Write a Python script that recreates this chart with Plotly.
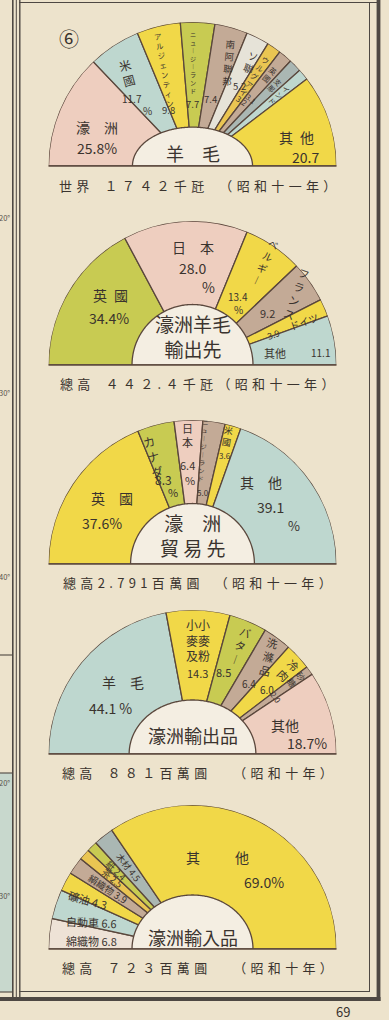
import math
import plotly.graph_objects as go

W, H = 389, 1020

# ---------------- data ----------------
wool_world_names = ["濠洲", "米國", "アルジェンティン", "ニュージーランド", "南阿聯邦", "ソ聯",
                    "ウルグアイ", "英國", "支那", "インド", "其他"]
wool_world_share = [25.8, 11.7, 9.8, 7.7, 7.4, 5.2, 3.2, 3.1, 2.9, 2.5, 20.7]

wool_export_names = ["英國", "日本", "ベルギー", "フランス", "ドイツ", "其他"]
wool_export_share = [34.4, 28.0, 13.4, 9.2, 3.9, 11.1]

trade_names = ["英國", "カナダ", "日本", "ニュージーランド", "米國", "其他"]
trade_share = [37.6, 8.3, 6.4, 5.0, 3.6, 39.1]

export_names = ["羊毛", "小麥及小麥粉", "バター", "洗滌品", "冷肉", "砂糖", "其他"]
export_share = [44.1, 14.3, 8.5, 6.4, 6.0, 2.0, 18.7]

import_names = ["綿織物", "自動車", "礦油", "絹織物", "茶", "紙", "木材", "其他"]
import_share = [6.8, 6.6, 4.3, 3.9, 2.5, 2.4, 4.5, 69.0]

chart_titles = ["羊　毛", "濠洲羊毛<br>輸出先", "濠　洲<br>貿 易 先", "濠洲輸出品", "濠洲輸入品"]
chart_captions = ["世界 1742千瓩 (昭和十一年)",
                  "總高 442.4千瓩(昭和十一年)",
                  "總高2.791百萬圓 (昭和十一年)",
                  "總高 881百萬圓  (昭和十年)",
                  "總高 723百萬圓  (昭和十年)"]

# ---------------- style ----------------
PAPER = "#ede3cc"
INNER = "#f4eee2"
EDGE = "#5a473c"
INK = "#3a332e"
FONT = "Noto Sans CJK JP"

PINK = "#eecebf"
BLUE = "#bed7cf"
YELLOW = "#f1d848"
ORANGE = "#eac552"
GREEN = "#c8cb52"
TAN = "#c3aa96"
LIGHT = "#e6e3d8"
GREY = "#aab7b3"
WHITE = "#eee2d6"

CX, R = 192.5, 144.0

# label pieces: (format, r, theta, size, textangle)
charts = [
    dict(names=wool_world_names, values=wool_world_share, base=166, hole=(0.417, 0.27),
         title_r=0.09, title_size=18, caption_full=True,
         colors=[PINK, BLUE, YELLOW, GREEN, TAN, LIGHT, ORANGE, TAN, GREY, BLUE, YELLOW],
         labels=[
             [("{sp2}", 0.716, 157.8, 14, 0), ("{v}%", 0.675, 169.3, 14, 0)],
             [("{col}", 0.79, 125.0, 12, -15), ("{v}", 0.632, 131.7, 10, 0), ("%", 0.501, 129.1, 10, 0)],
             [("{col}", 0.70, 106.5, 7.5, -10), ("{v}", 0.424, 113.6, 9.5, 0)],
             [("{col}", 0.72, 89.7, 6.2, 0), ("{v}", 0.43, 90.4, 9.5, 0)],
             [("{col}", 0.765, 70.7, 9.5, 5), ("{v}", 0.48, 74.8, 9.5, 0)],
             [("{col}", 0.829, 60.6, 10, 20), ("{v}", 0.646, 59.3, 9.5, 0)],
             [("{col}", 0.76, 55.4, 7.5, 34), ("{v}", 0.566, 53.0, 8, 35)],
             [("{col}", 0.83, 49.8, 7.5, 40), ("{v}", 0.62, 49.0, 7.5, 40)],
             [("{col}", 0.80, 44.4, 7, 46)],
             [("{col}", 0.78, 39.5, 7, 50)],
             [("{sp}", 0.753, 15.5, 14, 0), ("{v}", 0.784, 4.6, 14, 0)],
         ]),
    dict(names=wool_export_names, values=wool_export_share, base=365, hole=(0.42, 0.42),
         title_r=0.2, title_size=19, caption_full=True,
         colors=[GREEN, PINK, YELLOW, TAN, YELLOW, BLUE],
         labels=[
             [("{sp}", 0.749, 139.5, 14, 0), ("{v}%", 0.668, 150.8, 14, 0)],
             [("{sp2}", 0.819, 90, 14, 0), ("{v}", 0.674, 90, 14, 0), ("%", 0.553, 78.4, 14, 0)],
             [("{col}", 0.875, 54.6, 10, 25), ("{v}", 0.57, 56.0, 10, 0), ("%", 0.50, 50.4, 10, 0)],
             [("{col}", 0.875, 34.3, 11, 20), ("{v}", 0.634, 34.7, 11, 0)],
             [("{name}", 0.827, 21.2, 10, -20), ("{v}", 0.602, 20.9, 9, -20)],
             [("{name}", 0.582, 8.2, 11, 0), ("{v}", 0.893, 5.4, 10, 0)],
         ]),
    dict(names=trade_names, values=trade_share, base=564, hole=(0.43, 0.42),
         title_r=0.2, title_size=19, caption_full=False,
         colors=[YELLOW, GREEN, PINK, TAN, YELLOW, BLUE],
         labels=[
             [("{sp2}", 0.72, 140.5, 14, 0), ("{v}%", 0.687, 155.5, 14, 0)],
             [("{col}", 0.797, 109.9, 12, -15), ("{v}", 0.617, 109, 12, 0), ("%", 0.519, 105.5, 11, 0)],
             [("{col}", 0.895, 92.2, 11, 0), ("{v}", 0.69, 92.9, 11, 0), ("%", 0.585, 92, 11, 0)],
             [("{col}", 0.79, 84.5, 6.2, 5), ("{v}", 0.50, 81.9, 8, 0)],
             [("{col}", 0.915, 74.6, 9, 10), ("{v}", 0.79, 73.2, 8, 0)],
             [("{sp2}", 0.74, 50.3, 14, 0), ("{v}", 0.671, 36.2, 14, 0), ("%", 0.752, 21.1, 13, 0)],
         ]),
    dict(names=export_names, values=export_share, base=754, hole=(0.44, 0.375),
         title_r=0.13, title_size=18, caption_full=True,
         colors=[BLUE, YELLOW, GREEN, TAN, YELLOW, TAN, PINK],
         labels=[
             [("{sp2}", 0.697, 134.2, 14, 0), ("{v} %", 0.653, 150.7, 14, 0)],
             [("{pair}", 0.793, 87, 12, 0), ("{v}", 0.564, 86.5, 11, 0)],
             [("{col}", 0.827, 66.2, 11, 20), ("{v}", 0.609, 69.3, 11, 0)],
             [("{col}", 0.856, 51.9, 11, 15), ("{v}", 0.628, 51.7, 10, 0)],
             [("{col}", 0.886, 41.2, 11, 45), ("{v}", 0.68, 40.9, 10, 0)],
             [("{col}", 0.89, 35.5, 8.5, 55), ("{v}", 0.70, 34.0, 8, 55)],
             [("{name}", 0.676, 17.3, 14, 0), ("{v}%", 0.802, 5.5, 14, 0)],
         ]),
    dict(names=import_names, values=import_share, base=949, hole=(0.42, 0.375),
         title_r=0.083, title_size=18, caption_full=True,
         colors=[WHITE, BLUE, YELLOW, TAN, ORANGE, GREEN, GREY, YELLOW],
         labels=[
             [("{name} {v}", 0.707, 175.5, 11, 0)],
             [("{name} {v}", 0.729, 165.1, 11, 3)],
             [("{name} {v}", 0.80, 154.8, 11, 15)],
             [("{name} {v}", 0.72, 144.6, 9.5, 33)],
             [("{name} {v}", 0.74, 138.9, 9, 40)],
             [("{name} {v}", 0.76, 134.4, 9, 45)],
             [("{name} {v}", 0.72, 128.2, 9, 52)],
             [("{sp3}", 0.662, 74.8, 14, 0), ("{v}%", 0.678, 43.3, 14, 0)],
         ]),
]

VERTICAL = {"ー": "︱"}


def fmt_label(fmt, name, value):
    col = "<br>".join(VERTICAL.get(c, c) for c in name)
    half = (len(name) + 1) // 2
    pair = "<br>".join(a + b for a, b in zip(name[:half], name[half:]))
    return fmt.format(name=name, col=col, pair=pair, v=f"{value:.1f}",
                      sp="\u2002".join(name), sp2="\u3000".join(name),
                      sp3="\u3000\u3000\u2002".join(name))


def spread(s, full_digits=True, gap="\u2004"):
    """Letter-spaced caption text; digits optionally set full width."""
    out = []
    for ch in s:
        if ch == " ":
            out.append("\u2002")
            continue
        if full_digits and "0" <= ch <= "9":
            ch = chr(ord(ch) - ord("0") + 0xFF10)
        elif ch == "(":
            ch = "（"
        elif ch == ")":
            ch = "）"
        out.append(ch)
    return gap.join(out)


def px(x):
    return x / W


def py(y):
    return 1 - y / H


fig = go.Figure()
annotations = []
shapes = []

for k, ch in enumerate(charts):
    pid = "polar" if k == 0 else f"polar{k + 1}"
    total = sum(ch["values"])
    widths, mids = [], []
    cum = 0.0
    for v in ch["values"]:
        w = v / total * 180.0
        widths.append(w)
        mids.append(180.0 - cum - w / 2)
        cum += w
    fig.add_trace(go.Barpolar(
        r=[1.0] * len(ch["values"]), theta=mids, width=widths, base=0,
        marker=dict(color=ch["colors"], line=dict(color=EDGE, width=1.3)),
        subplot=pid, hoverinfo="skip", showlegend=False))

    # inner half-ellipse holding the chart title
    a, b = ch["hole"]
    th = [i * 1.0 for i in range(0, 181)]
    rr = [a * b / math.sqrt((b * math.cos(math.radians(t))) ** 2 + (a * math.sin(math.radians(t))) ** 2)
          for t in th]
    fig.add_trace(go.Scatterpolar(
        r=rr + [0, rr[0]], theta=th + [0, 0], mode="lines", fill="toself",
        fillcolor=INNER, line=dict(color=EDGE, width=1.3),
        subplot=pid, hoverinfo="skip", showlegend=False))

    y0 = ch["base"]
    fig.update_layout(**{pid: dict(
        domain=dict(x=[px(CX - R), px(CX + R)], y=[py(y0), py(y0 - R)]),
        sector=[0, 180], bgcolor="rgba(0,0,0,0)",
        radialaxis=dict(visible=False, range=[0, 1]),
        angularaxis=dict(visible=False),
    )})

    # baseline
    shapes.append(dict(type="line", xref="paper", yref="paper",
                       x0=px(CX - R), x1=px(CX + R), y0=py(y0), y1=py(y0),
                       line=dict(color=EDGE, width=1.5)))

    def place(r, t):
        return px(CX + r * R * math.cos(math.radians(t))), py(y0 - r * R * math.sin(math.radians(t)))

    for name, value, pieces in zip(ch["names"], ch["values"], ch["labels"]):
        for fmt, r, t, size, ang in pieces:
            x, y = place(r, t)
            annotations.append(dict(
                x=x, y=y, xref="paper", yref="paper", showarrow=False,
                text=fmt_label(fmt, name, value), textangle=ang,
                xanchor="center", yanchor="middle",
                font=dict(family=FONT, size=size, color=INK)))

    # title inside the hole
    x, y = place(ch["title_r"], 90)
    annotations.append(dict(x=x, y=y, xref="paper", yref="paper", showarrow=False,
                            text=chart_titles[k], xanchor="center", yanchor="middle",
                            font=dict(family=FONT, size=ch["title_size"], color=INK)))
    # caption under the chart
    annotations.append(dict(x=px(197), y=py(y0 + 18 if k != 0 else y0 + 19), xref="paper", yref="paper",
                            showarrow=False, text=spread(chart_captions[k], ch["caption_full"]),
                            xanchor="center", yanchor="middle",
                            font=dict(family=FONT, size=13, color=INK)))

# panel number
annotations.append(dict(x=px(57), y=py(22), xref="paper", yref="paper", showarrow=False,
                        text="⑥", font=dict(family=FONT, size=20, color=INK)))
# page number at the foot
annotations.append(dict(x=px(352), y=py(1011), xref="paper", yref="paper", showarrow=False,
                        text="69", yanchor="middle",
                        font=dict(family=FONT, size=13, color=INK)))

# neighbouring map strip on the left
for yy, t in [(210, "20°"), (393, "30°"), (576, "40°"), (790, "20°"), (903, "30°")]:
    annotations.append(dict(x=px(12), y=py(yy), xref="paper", yref="paper", showarrow=False,
                            text=t, xanchor="right", font=dict(family=FONT, size=7.5, color="#5a534c")))
shapes.append(dict(type="rect", xref="paper", yref="paper", x0=px(0), x1=px(12.5),
                   y0=py(992), y1=py(773), fillcolor="#c8d8cd", line=dict(width=0), layer="below"))
for yy in (655, 773, 992):
    shapes.append(dict(type="line", xref="paper", yref="paper", x0=px(0), x1=px(12.5),
                       y0=py(yy), y1=py(yy), line=dict(color="#5a534c", width=1.2)))


# frame lines
def vline(x, w, c="#4e4843", y0=0, y1=1000):
    shapes.append(dict(type="line", xref="paper", yref="paper", x0=px(x), x1=px(x),
                       y0=py(y0), y1=py(y1), line=dict(color=c, width=w)))


def hline(y, w, c="#4e4843", x0=19, x1=380):
    shapes.append(dict(type="line", xref="paper", yref="paper", x0=px(x0), x1=px(x1),
                       y0=py(y), y1=py(y), line=dict(color=c, width=w)))


vline(12.8, 1.6)
vline(16.3, 1.0)
vline(19.8, 1.4)
vline(369.5, 1.0, y0=3, y1=992)
vline(378.5, 3.8, y0=0, y1=1001)
hline(2.5, 1.2)
hline(991.5, 1.0, x0=19, x1=370)
hline(999, 3.8, x0=0, x1=380.5)

fig.update_layout(width=W, height=H, margin=dict(l=0, r=0, t=0, b=0),
                  paper_bgcolor=PAPER, plot_bgcolor=PAPER,
                  annotations=annotations, shapes=shapes, showlegend=False)

fig.write_html("out.html")
